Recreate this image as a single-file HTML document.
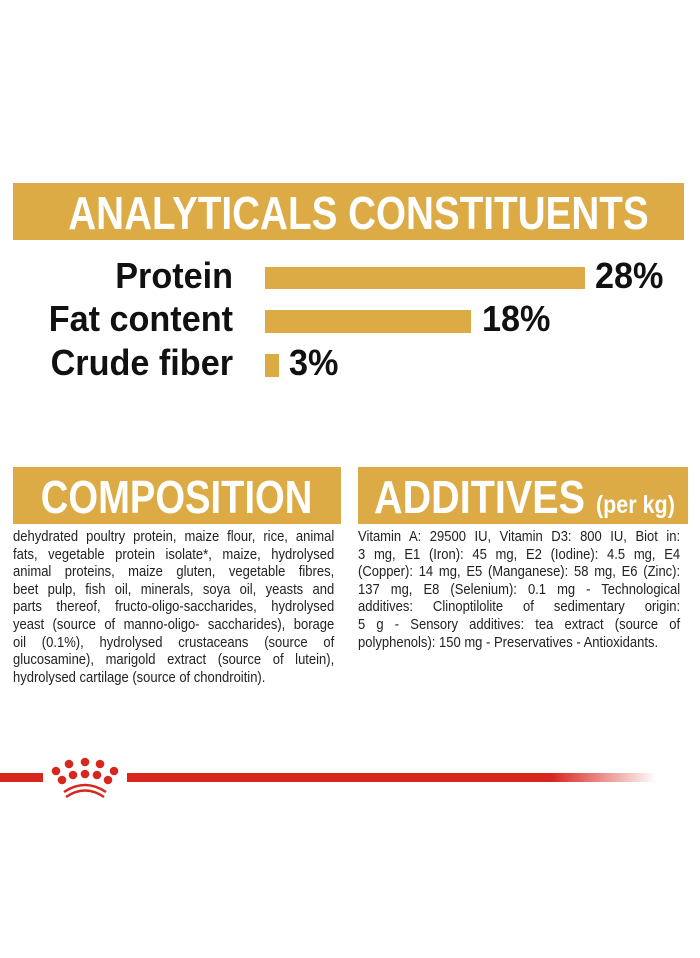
<!DOCTYPE html>
<html><head><meta charset="utf-8"><style>
body{margin:0;width:700px;height:958px;background:#fff;position:relative;overflow:hidden;font-family:"Liberation Sans",sans-serif;}
.ban{position:absolute;background:#dcab45;color:#fff;font-weight:bold;white-space:nowrap;overflow:hidden;}
.ban span{display:inline-block;}
.lab{position:absolute;font-weight:bold;font-size:36px;color:#111;white-space:nowrap;}
.r{transform:scaleX(0.95);transform-origin:right center;}
.lf{transform:scaleX(0.95);transform-origin:left center;}
.bar{position:absolute;background:#dcab45;}
.txt{position:absolute;font-size:14.3px;line-height:17.6px;color:#222;transform:scaleX(0.91);transform-origin:left top;}
.txt div{text-align:justify;text-align-last:justify;white-space:nowrap;}
.txt div.l{text-align-last:left;}
</style></head><body>
<div class="ban" style="left:13px;top:183px;width:671px;height:57px;font-size:46px;line-height:60px;text-align:center;"><span style="transform:scaleX(0.84);">ANALYTICALS CONSTITUENTS</span></div>
<div class="lab r" style="right:467px;top:255px;">Protein</div>
<div class="lab r" style="right:467px;top:298px;">Fat content</div>
<div class="lab r" style="right:467px;top:342px;">Crude fiber</div>
<div class="bar" style="left:265px;top:267px;width:320px;height:22px;"></div>
<div class="bar" style="left:265px;top:310px;width:206px;height:23px;"></div>
<div class="bar" style="left:265px;top:354px;width:14px;height:23px;"></div>
<div class="lab lf" style="left:595px;top:255px;">28%</div>
<div class="lab lf" style="left:482px;top:298px;">18%</div>
<div class="lab lf" style="left:289px;top:342px;">3%</div>

<div class="ban" style="left:13px;top:467px;width:328px;height:57px;font-size:46px;line-height:60px;text-align:center;"><span style="transform:scaleX(0.83);">COMPOSITION</span></div>
<div class="ban" style="left:358px;top:467px;width:330px;height:57px;font-size:46px;line-height:60px;"><span style="transform:scaleX(0.86);transform-origin:left center;margin-left:16px;">ADDITIVES <span style="font-size:25px;">(per kg)</span></span></div>

<div class="txt" style="left:13px;top:529px;width:353px;">
<div>dehydrated poultry protein, maize flour, rice, animal</div>
<div>fats, vegetable protein isolate*, maize, hydrolysed</div>
<div>animal proteins, maize gluten, vegetable fibres,</div>
<div>beet pulp, fish oil, minerals, soya oil, yeasts and</div>
<div>parts thereof, fructo-oligo-saccharides, hydrolysed</div>
<div>yeast (source of manno-oligo- saccharides), borage</div>
<div>oil (0.1%), hydrolysed crustaceans (source of</div>
<div>glucosamine), marigold extract (source of lutein),</div>
<div class="l">hydrolysed cartilage (source of chondroitin).</div>
</div>
<div class="txt" style="left:358px;top:529px;width:354px;">
<div>Vitamin A: 29500 IU, Vitamin D3: 800 IU, Biot in:</div>
<div>3 mg, E1 (Iron): 45 mg, E2 (Iodine): 4.5 mg, E4</div>
<div>(Copper): 14 mg, E5 (Manganese): 58 mg, E6 (Zinc):</div>
<div>137 mg, E8 (Selenium): 0.1 mg - Technological</div>
<div>additives: Clinoptilolite of sedimentary origin:</div>
<div>5 g - Sensory additives: tea extract (source of</div>
<div class="l">polyphenols): 150 mg - Preservatives - Antioxidants.</div>
</div>

<div style="position:absolute;left:0;top:773px;width:43px;height:9px;background:#d7261e;"></div>
<div style="position:absolute;left:127px;top:773px;width:530px;height:9px;background:linear-gradient(to right,#d7261e 0%,#d7261e 80%,rgba(215,38,30,0) 100%);"></div>
<svg style="position:absolute;left:0;top:0" width="700" height="958">
<g fill="#d7261e">
<circle cx="56" cy="771" r="4.3"/><circle cx="69" cy="764" r="4.3"/><circle cx="85" cy="762" r="4.3"/><circle cx="100" cy="764" r="4.3"/><circle cx="114" cy="771" r="4.3"/>
<circle cx="62" cy="780" r="4.3"/><circle cx="73" cy="775" r="4.3"/><circle cx="85" cy="774" r="4.3"/><circle cx="97" cy="775" r="4.3"/><circle cx="108" cy="780" r="4.3"/>
</g>
<path d="M64 792 Q85 778 106 792" stroke="#d7261e" stroke-width="2.5" fill="none"/>
<path d="M66 797 Q85 784 104 797" stroke="#d7261e" stroke-width="2.5" fill="none"/>
</svg>
</body></html>
